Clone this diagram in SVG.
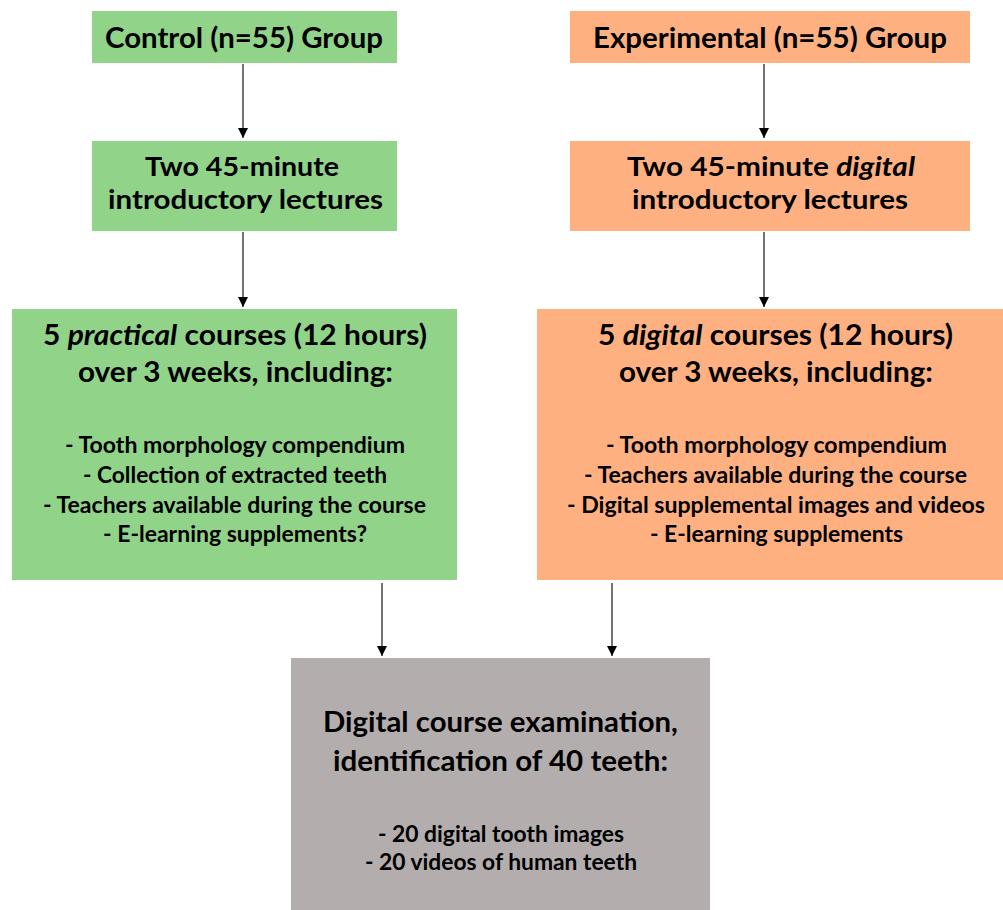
<svg xmlns="http://www.w3.org/2000/svg" width="1003" height="910" viewBox="0 0 1003 910">
  <style>
    .green { fill: #92d38a; }
    .orange { fill: #ffb081; }
    .grey { fill: #b3aead; }
    .head { font-family: Lato, "Open Sans", "Liberation Sans", sans-serif; font-weight: bold; font-size: 29px; fill: #000; text-anchor: start; }
    .lect { font-size: 27px; }
    .item { font-family: Lato, "Open Sans", "Liberation Sans", sans-serif; font-weight: bold; font-size: 22.5px; fill: #000; text-anchor: start; }
    .conn { stroke: #000; stroke-width: 1.1; fill: none; }
  </style>
  <defs>
    <marker id="arrow" viewBox="0 0 10 10" refX="10" refY="5" markerWidth="10" markerHeight="10" markerUnits="userSpaceOnUse" orient="auto">
      <path d="M0,0 L10,5 L0,10 Z" fill="#000"/>
    </marker>
  </defs>
  <rect width="1003" height="910" fill="#fff"/>

  <g id="connectors">
    <line class="conn" x1="243" y1="64" x2="243" y2="138" marker-end="url(#arrow)"/>
    <line class="conn" x1="764" y1="64" x2="764" y2="138" marker-end="url(#arrow)"/>
    <line class="conn" x1="243" y1="232" x2="243" y2="307" marker-end="url(#arrow)"/>
    <line class="conn" x1="764" y1="232" x2="764" y2="307" marker-end="url(#arrow)"/>
    <line class="conn" x1="382" y1="583" x2="382" y2="656" marker-end="url(#arrow)"/>
    <line class="conn" x1="612" y1="583" x2="612" y2="656" marker-end="url(#arrow)"/>
  </g>

  <g id="control-group">
    <rect class="green" x="92" y="11" width="305" height="52"/>
    <text class="head" x="105" y="48" textLength="278" lengthAdjust="spacingAndGlyphs">Control (n=55) Group</text>
  </g>

  <g id="experimental-group">
    <rect class="orange" x="570" y="11" width="400" height="52"/>
    <text class="head" x="593" y="48" textLength="354" lengthAdjust="spacingAndGlyphs">Experimental (n=55) Group</text>
  </g>

  <g id="control-lectures">
    <rect class="green" x="92" y="141" width="305" height="90"/>
    <text class="head lect" x="145" y="176" textLength="194" lengthAdjust="spacingAndGlyphs">Two 45-minute</text>
    <text class="head lect" x="108" y="209" textLength="275" lengthAdjust="spacingAndGlyphs">introductory lectures</text>
  </g>

  <g id="experimental-lectures">
    <rect class="orange" x="570" y="141" width="400" height="90"/>
    <text class="head lect" x="627" y="176" textLength="288" lengthAdjust="spacingAndGlyphs">Two 45-minute <tspan font-style="italic">digital</tspan></text>
    <text class="head lect" x="632" y="209" textLength="276" lengthAdjust="spacingAndGlyphs">introductory lectures</text>
  </g>

  <g id="practical-courses">
    <rect class="green" x="12" y="309" width="445" height="271"/>
    <text class="head" x="43" y="345" textLength="384" lengthAdjust="spacingAndGlyphs">5 <tspan font-style="italic">practical</tspan> courses (12 hours)</text>
    <text class="head" x="78" y="382" textLength="315" lengthAdjust="spacingAndGlyphs">over 3 weeks, including:</text>
    <text class="item" x="65" y="453" textLength="340" lengthAdjust="spacingAndGlyphs">- Tooth morphology compendium</text>
    <text class="item" x="83" y="483" textLength="304" lengthAdjust="spacingAndGlyphs">- Collection of extracted teeth</text>
    <text class="item" x="43" y="513" textLength="383" lengthAdjust="spacingAndGlyphs">- Teachers available during the course</text>
    <text class="item" x="103" y="542" textLength="264" lengthAdjust="spacingAndGlyphs">- E-learning supplements?</text>
  </g>

  <g id="digital-courses">
    <rect class="orange" x="537" y="309" width="466" height="271"/>
    <text class="head" x="598" y="345" textLength="355" lengthAdjust="spacingAndGlyphs">5 <tspan font-style="italic">digital</tspan> courses (12 hours)</text>
    <text class="head" x="619" y="382" textLength="314" lengthAdjust="spacingAndGlyphs">over 3 weeks, including:</text>
    <text class="item" x="606" y="453" textLength="341" lengthAdjust="spacingAndGlyphs">- Tooth morphology compendium</text>
    <text class="item" x="584" y="483" textLength="383" lengthAdjust="spacingAndGlyphs">- Teachers available during the course</text>
    <text class="item" x="567" y="513" textLength="418" lengthAdjust="spacingAndGlyphs">- Digital supplemental images and videos</text>
    <text class="item" x="650" y="542" textLength="253" lengthAdjust="spacingAndGlyphs">- E-learning supplements</text>
  </g>

  <g id="examination">
    <rect class="grey" x="291" y="658" width="419" height="252"/>
    <text class="head" x="323" y="732" textLength="355" lengthAdjust="spacingAndGlyphs">Digital course examination,</text>
    <text class="head" x="333" y="771" textLength="335" lengthAdjust="spacingAndGlyphs">identification of 40 teeth:</text>
    <text class="item" x="378" y="842" textLength="246" lengthAdjust="spacingAndGlyphs">- 20 digital tooth images</text>
    <text class="item" x="365" y="870" textLength="272" lengthAdjust="spacingAndGlyphs">- 20 videos of human teeth</text>
  </g>
</svg>
